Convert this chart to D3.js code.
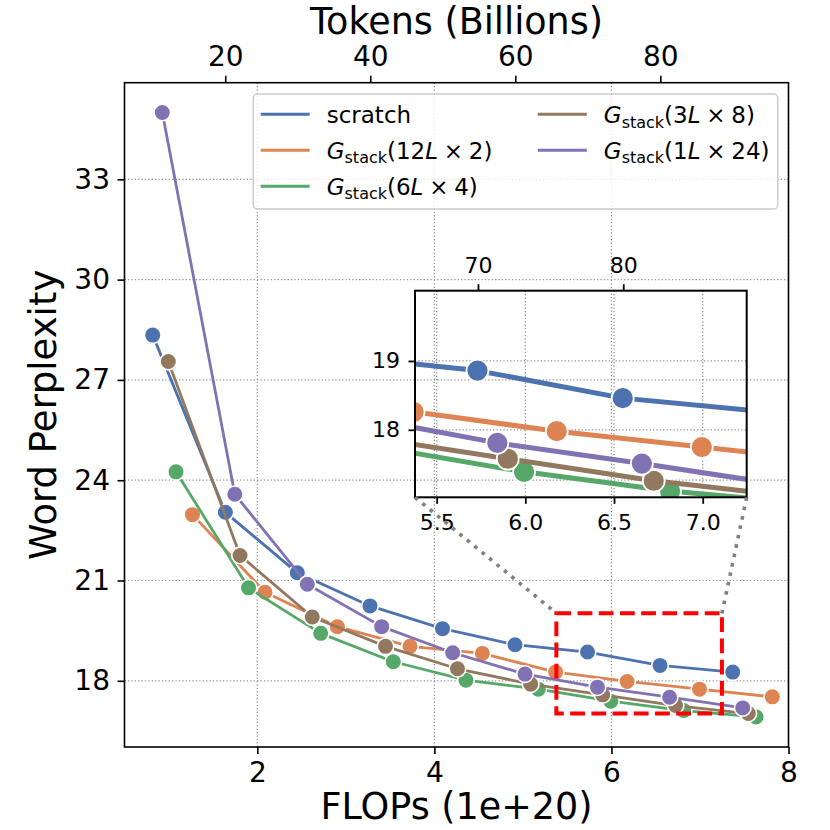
<!DOCTYPE html>
<html>
<head>
<meta charset="utf-8">
<script src="https://cdn.jsdelivr.net/npm/d3@7"></script>
<style>
  html, body { margin: 0; padding: 0; background: #fff; }
  svg { display: block; font-family: "DejaVu Sans", sans-serif; }
  text { white-space: pre; }
</style>
</head>
<body>
<svg id="chart" width="830" height="830"></svg>
<script>
// ---------------- data ----------------
const seriesNames = ["scratch", "12L × 2", "6L × 4", "3L × 8", "1L × 24"];
const seriesColors = ["#4C72B0", "#DD8452", "#55A868", "#937860", "#8172B3"];

// FLOPs (1e+20)
const xScratch = [0.819, 1.639, 2.452, 3.273, 4.092, 4.911, 5.730, 6.549, 7.370];
const xG12     = [1.268, 2.087, 2.904, 3.725, 4.542, 5.370, 6.177, 6.995, 7.817];
const xG6      = [1.082, 1.901, 2.716, 3.536, 4.357, 5.174, 5.993, 6.816, 7.633];
const xG3      = [0.995, 1.805, 2.621, 3.448, 4.261, 5.088, 5.901, 6.724, 7.546];
const xG1      = [0.927, 1.746, 2.565, 3.405, 4.207, 5.024, 5.842, 6.657, 7.483];
// Word perplexity
const yScratch = [28.34, 23.04, 21.23, 20.24, 19.56, 19.08, 18.86, 18.46, 18.26];
const yG12     = [22.97, 20.65, 19.62, 19.03, 18.82, 18.26, 17.98, 17.75, 17.52];
const yG6      = [24.25, 20.78, 19.42, 18.57, 18.02, 17.75, 17.39, 17.11, 16.92];
const yG3      = [27.55, 21.75, 19.91, 19.03, 18.36, 17.90, 17.58, 17.26, 17.02];
const yG1      = [35.00, 23.58, 20.89, 19.62, 18.84, 18.20, 17.81, 17.51, 17.19];

const xTicks = [2, 4, 6, 8];
const yTicks = [18, 21, 24, 27, 30, 33];
const tokenTicks = [20, 40, 60, 80];
const insetXTicks = [5.5, 6.0, 6.5, 7.0];
const insetYTicks = [18, 19];
const insetTokenTicks = [70, 80];
const flopsPerBillionTokens = 0.0819;   // 1e20 FLOPs per billion tokens (top axis)
const zoomX = [5.378, 7.248];
const zoomY = [17.02, 20.02];

const xs = [xScratch, xG12, xG6, xG3, xG1];
const ys = [yScratch, yG12, yG6, yG3, yG1];
const series = seriesNames.map((name, i) => ({
  name, color: seriesColors[i],
  pts: xs[i].map((v, j) => ({ x: v, y: ys[i][j] }))
}));

// ---------------- layout ----------------
const svg = d3.select("#chart");
const P = { l: 124.5, r: 788.5, t: 82.7, b: 747 };
const IN = { l: 415, r: 746.7, t: 290.7, b: 497.3 };

const x = d3.scaleLinear().domain([0.5, 8.0]).range([P.l, P.r]);
const y = d3.scaleLinear().domain([16.02, 35.89]).range([P.b, P.t]);
const xTop = d3.scaleLinear()
  .domain(x.domain().map(d => d / flopsPerBillionTokens)).range([P.l, P.r]);

const xi = d3.scaleLinear().domain(zoomX).range([IN.l, IN.r]);
const yi = d3.scaleLinear().domain(zoomY).range([IN.b, IN.t]);
const xiTop = d3.scaleLinear()
  .domain(zoomX.map(d => d / flopsPerBillionTokens)).range([IN.l, IN.r]);

const gridStyle = g => g.attr("stroke", "#8a8a8a").attr("stroke-width", 1.2)
  .attr("stroke-dasharray", "1.2,2.2").attr("fill", "none");

// ---------------- main grid ----------------
const grid = svg.append("g");
grid.selectAll(".vg").data(xTicks).join("line")
  .attr("x1", d => x(d)).attr("x2", d => x(d)).attr("y1", P.t).attr("y2", P.b)
  .call(gridStyle);
grid.selectAll(".hg").data(yTicks).join("line")
  .attr("y1", d => y(d)).attr("y2", d => y(d)).attr("x1", P.l).attr("x2", P.r)
  .call(gridStyle);

// ---------------- main series ----------------
svg.append("defs").append("clipPath").attr("id", "mainClip")
  .append("rect").attr("x", P.l).attr("y", P.t).attr("width", P.r - P.l).attr("height", P.b - P.t);
svg.select("defs").append("clipPath").attr("id", "insetClip")
  .append("rect").attr("x", IN.l).attr("y", IN.t).attr("width", IN.r - IN.l).attr("height", IN.b - IN.t);

function drawSeries(g, sx, sy, lw, r, sw) {
  const line = d3.line().x(d => sx(d.x)).y(d => sy(d.y));
  series.forEach(s => {
    const sg = g.append("g");
    sg.append("path").attr("d", line(s.pts)).attr("fill", "none")
      .attr("stroke", s.color).attr("stroke-width", lw)
      .attr("stroke-linejoin", "round").attr("stroke-linecap", "butt");
    sg.selectAll("circle").data(s.pts).join("circle")
      .attr("cx", d => sx(d.x)).attr("cy", d => sy(d.y)).attr("r", r)
      .attr("fill", s.color).attr("stroke", "#fff").attr("stroke-width", sw);
  });
}
drawSeries(svg.append("g").attr("clip-path", "url(#mainClip)"), x, y, 2.8, 8.3, 1.6);

// zoom rectangle
svg.append("rect")
  .attr("x", x(zoomX[0])).attr("y", y(zoomY[1]))
  .attr("width", x(zoomX[1]) - x(zoomX[0])).attr("height", y(zoomY[0]) - y(zoomY[1]))
  .attr("fill", "none").attr("stroke", "#ff0000").attr("stroke-width", 4)
  .attr("stroke-dasharray", "14.8,6.4");

// ---------------- main axes ----------------
const tickFont = 28;
function styleAxis(g, fs) {
  g.select(".domain").remove();
  g.selectAll(".tick line").attr("stroke", "#000").attr("stroke-width", 1.6);
  g.selectAll(".tick text").attr("fill", "#000").attr("font-size", fs)
    .attr("font-family", "DejaVu Sans");
}
svg.append("g").attr("transform", `translate(0,${P.b})`)
  .call(d3.axisBottom(x).tickValues(xTicks).tickFormat(d3.format("d")).tickSize(7).tickPadding(8.5))
  .call(g => styleAxis(g, tickFont));
svg.append("g").attr("transform", `translate(${P.l},0)`)
  .call(d3.axisLeft(y).tickValues(yTicks).tickFormat(d3.format("d")).tickSize(7).tickPadding(7.5))
  .call(g => styleAxis(g, tickFont));
svg.append("g").attr("transform", `translate(0,${P.t})`)
  .call(d3.axisTop(xTop).tickValues(tokenTicks).tickFormat(d3.format("d")).tickSize(7).tickPadding(9.7))
  .call(g => styleAxis(g, tickFont));

svg.append("rect").attr("x", P.l).attr("y", P.t).attr("width", P.r - P.l).attr("height", P.b - P.t)
  .attr("fill", "none").attr("stroke", "#000").attr("stroke-width", 1.6);

// axis titles
svg.append("text").attr("x", (P.l + P.r) / 2).attr("y", 819).attr("text-anchor", "middle")
  .attr("font-size", 36.5).text("FLOPs (1e+20)");
svg.append("text").attr("x", (P.l + P.r) / 2).attr("y", 34).attr("text-anchor", "middle")
  .attr("font-size", 36.5).text("Tokens (Billions)");
svg.append("text").attr("transform", `translate(56,${(P.t + P.b) / 2}) rotate(-90)`)
  .attr("text-anchor", "middle").attr("font-size", 37).text("Word Perplexity");

// ---------------- legend ----------------
const L = { x: 253.3, y: 94, w: 524.4, h: 115 };
const leg = svg.append("g");
leg.append("rect").attr("x", L.x).attr("y", L.y).attr("width", L.w).attr("height", L.h)
  .attr("rx", 4).attr("fill", "#fff").attr("fill-opacity", 0.8)
  .attr("stroke", "#cccccc").attr("stroke-width", 1.5);
const colX = [260.7, 537.8];
const rowY = [114.3, 150.2, 186.2];
const legFont = 23;
series.forEach((s, i) => {
  const col = i < 3 ? 0 : 1, row = i < 3 ? i : i - 3;
  const cx = colX[col], cy = rowY[row];
  leg.append("line").attr("x1", cx).attr("x2", cx + 49).attr("y1", cy).attr("y2", cy)
    .attr("stroke", s.color).attr("stroke-width", 3);
  const t = leg.append("text").attr("x", cx + 66).attr("y", cy + 8.7).attr("font-size", legFont);
  const m = s.name.match(/^(\d+)L × (\d+)$/);
  if (!m) { t.text(s.name); return; }
  t.append("tspan").attr("font-style", "italic").text("G");
  t.append("tspan").attr("font-size", 16).attr("dy", 4.5).text("stack");
  t.append("tspan").attr("font-size", legFont).attr("dy", -4.5).text("(" + m[1]);
  t.append("tspan").attr("font-style", "italic").text("L");
  t.append("tspan").text("\u2005×\u2005" + m[2] + ")");
});

// ---------------- inset ----------------
const inset = svg.append("g");
inset.selectAll(".ivg").data(insetXTicks).join("line")
  .attr("x1", d => xi(d)).attr("x2", d => xi(d)).attr("y1", IN.t).attr("y2", IN.b).call(gridStyle);
inset.selectAll(".ihg").data(insetYTicks).join("line")
  .attr("y1", d => yi(d)).attr("y2", d => yi(d)).attr("x1", IN.l).attr("x2", IN.r).call(gridStyle);

drawSeries(inset.append("g").attr("clip-path", "url(#insetClip)"), xi, yi, 5, 11, 1.8);

const insetFont = 22;
inset.append("g").attr("transform", `translate(0,${IN.b})`)
  .call(d3.axisBottom(xi).tickValues(insetXTicks).tickFormat(d3.format(".1f")).tickSize(6.5).tickPadding(10.5))
  .call(g => styleAxis(g, insetFont));
inset.append("g").attr("transform", `translate(${IN.l},0)`)
  .call(d3.axisLeft(yi).tickValues(insetYTicks).tickFormat(d3.format("d")).tickSize(6.5).tickPadding(8.5))
  .call(g => styleAxis(g, insetFont));
inset.append("g").attr("transform", `translate(0,${IN.t})`)
  .call(d3.axisTop(xiTop).tickValues(insetTokenTicks).tickFormat(d3.format("d")).tickSize(6.5).tickPadding(11.5))
  .call(g => styleAxis(g, insetFont));
inset.selectAll(".tick line").attr("stroke-width", 1.8);
inset.append("rect").attr("x", IN.l).attr("y", IN.t).attr("width", IN.r - IN.l).attr("height", IN.b - IN.t)
  .attr("fill", "none").attr("stroke", "#000").attr("stroke-width", 2);

// connector lines
const conn = [
  [[IN.l, IN.b], [x(zoomX[0]), y(zoomY[1])]],
  [[IN.r, IN.b], [x(zoomX[1]), y(zoomY[1])]]
];
svg.append("g").selectAll("line").data(conn).join("line")
  .attr("x1", d => d[0][0]).attr("y1", d => d[0][1])
  .attr("x2", d => d[1][0]).attr("y2", d => d[1][1])
  .attr("stroke", "#808080").attr("stroke-width", 3.6)
  .attr("stroke-dasharray", "3.6,6");
</script>
</body>
</html>
